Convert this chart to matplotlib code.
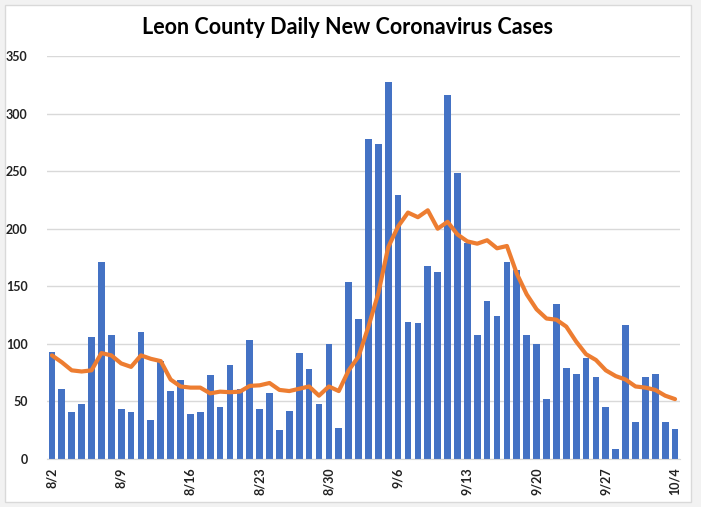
import matplotlib.pyplot as plt
from matplotlib.patches import Rectangle
import numpy as np

# daily new cases, 8/2 .. 10/4
cases = [93, 61, 41, 48, 106, 171, 108, 43, 41, 110, 34, 85, 59, 69,
         39, 41, 73, 45, 82, 61, 103, 43, 57, 25, 42, 92, 78, 48, 100, 27,
         154, 122, 278, 274, 327, 229, 119, 118, 168, 162, 316, 248, 188, 108,
         137, 124, 171, 164, 108, 100, 52, 135, 79, 74, 88, 71, 45, 9,
         116, 32, 71, 74, 32, 26]
# moving average line
avg = [90, 84, 77, 76, 77, 92, 90, 83, 80, 90, 87, 85, 69, 63,
       62, 62, 57, 58.5, 58, 58.5, 63.5, 64, 66, 60, 59, 61, 63, 55, 63, 59,
       77, 89, 115, 144, 184, 202, 214, 210, 216, 200, 206, 195, 189, 187,
       190, 183, 185, 161, 143, 130, 122, 121, 115, 102, 91, 86, 77, 72,
       69, 63, 62, 60, 55, 52]
tick_labels = ['8/2', '8/9', '8/16', '8/23', '8/30', '9/6', '9/13',
               '9/20', '9/27', '10/4']

plt.rcParams['font.family'] = ['Lato', 'DejaVu Sans']

W, H = 701, 507
fig = plt.figure(figsize=(W / 100, H / 100), dpi=100)
fig.patch.set_facecolor('#f2f2f2')
fig.patches.append(Rectangle((5 / W, 5 / H), 686 / W, 497 / H, transform=fig.transFigure,
                             facecolor='white', edgecolor='#d9d9d9', linewidth=1, zorder=-1))

ax = fig.add_axes([47 / W, (H - 459) / H, 633 / W, 403 / H])
ax.set_zorder(1)
ax.set_facecolor('none')

x = np.arange(len(cases))
ax.bar(x, cases, width=0.68, color='#4472C4', zorder=2)
ax.plot(x, avg, color='#ED7D31', linewidth=3, zorder=3, solid_capstyle='round')

ax.set_xlim(-0.5, len(cases) - 0.5)
ax.set_ylim(0, 350)
ax.set_yticks(range(0, 351, 50))
ax.set_xticks(list(range(0, len(cases), 7)))
ax.set_xticklabels(tick_labels, rotation=90, fontsize=9, fontweight='bold', color='#222222')
for lbl in ax.get_yticklabels():
    lbl.set_fontsize(9)
    lbl.set_fontweight('bold')
    lbl.set_color('#222222')

ax.grid(axis='y', color='#d9d9d9', linewidth=1, zorder=0)
for s in ['top', 'right', 'left']:
    ax.spines[s].set_visible(False)
ax.spines['bottom'].set_color('#d9d9d9')
ax.tick_params(axis='both', length=0)
ax.tick_params(axis='y', pad=14)
ax.tick_params(axis='x', pad=6)

fig.text(348 / W, 1 - 27 / H, 'Leon County Daily New Coronavirus Cases', ha='center', va='center',
         fontsize=15.5, fontweight='bold', color='black')

fig.savefig('out.png', dpi=100)
